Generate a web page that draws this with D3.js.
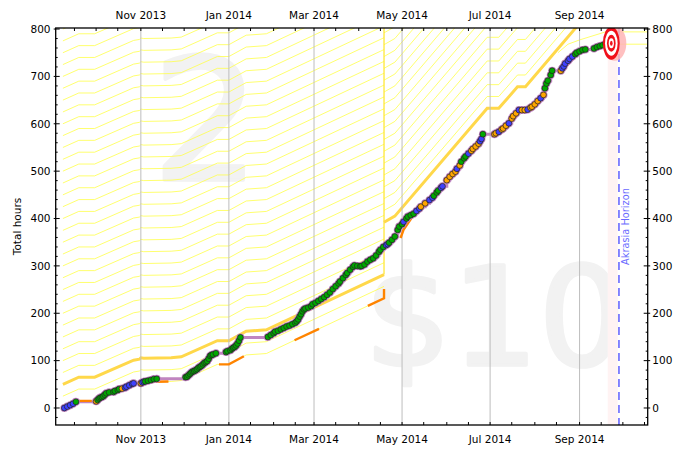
<!DOCTYPE html>
<html><head><meta charset="utf-8">
<script src="https://cdn.jsdelivr.net/npm/d3@7"></script>
<style>body{margin:0;background:#fff;}svg{display:block;font-family:"DejaVu Sans",sans-serif;}</style>
</head><body>
<svg id="c" width="696" height="453"></svg>
<script>
// ---------- data (day offsets counted from 2013-09-08) ----------
const startDate = "2013-09-08";
const dataDays = [1,3,5,7,9,23,24,25,26,27,28,29,30,32,35,36,38,39,41,43,44,46,48,49,54,55,56,57,59,61,63,65,
 85,86,87,88,89,90,91,92,93,94,95,96,97,98,99,100,101,102,103,104,106,113,114,116,117,118,119,120,121,122,123,
 142,144,146,147,149,151,153,155,157,159,161,162,163,164,165,166,167,168,170,172,173,175,177,179,181,183,185,187,189,191,192,194,196,197,199,201,202,204,206,207,209,211,213,215,217,219,220,222,
 224,225,226,228,230,232,233,235,236,238,239,241,243,245,247,248,251,254,256,257,259,260,262,263,266,268,270,272,273,275,276,278,279,281,283,284,286,288,289,290,291,
 299,300,302,304,305,307,309,311,312,314,316,318,320,322,324,325,327,329,331,333,334,335,336,338,339,345,346,347,348,350,351,353,355,356,358,360,362,368,370,372,374,376];
const dataHours = [0,3,6,9,13,14,17,20,22,23,25,28,31,33,34,36,38,40,41,43,45,48,51,52,52,54,55.5,56,57.5,59,61,61.5,
 65,66,69,72,75,77,78,80,82,85,87,89,92,95,97,99,104,110,112,113,115.5,118,120,122,125,127,129,132,136,142,149,
 150,154,158,161,163,166,169,172,174,177,180,183,187,193,198,204,208,210,212,215,219,222,226,230,234,239,244,251,257,263,267,274,281,285,292,298,301,300,299,300,303,309,313,316,322,330,334,340,
 344,346,349,355,362,376,383,388,393,400,404,407,410,416,421,425,432,439,444,448,455,459,465,468,481,488,494,499,505,512,520,527,531,537,543,547,552,558,563,568,578,
 578,580,583,588,590,596,601,611,616,622,629,629,629,630,634,636,641,648,654,661,675,685,691,703,712,712,717,721,727,733,737,742,747,750,753,756,757,759,762,764,766,769];
const dataDots =
 "bbbbg" + "o" + "gggggggggggg" + "o" + "bbbbb" + "o" + "bb" + "ggggg" +
 "g".repeat(31) + "g".repeat(48) +
 "bbggg"+"gggbg"+"gggbb"+"oobbg"+"ggbbo"+"ooobo"+"gggbo"+"ooobb"+"g" +
 "ooboo"+"obooo"+"boobo"+"ooobo"+"ggggg"+"obbbb"+"bbggg"+"ggggg"+"gg";

// road centreline before the April jump
const roadDays  = [0, 11, 22, 49, 53, 54, 56, 75, 82, 107, 115, 127, 141, 222.5];
const roadHours = [0, 15, 15, 51, 53, 56, 55, 56, 58, 92, 92, 112, 115, 231.7];
// thick (one-week) line after the jump
const road2Days  = [222.5, 230, 294, 302, 315, 320.5, 355.2, 380, 420];
const road2Hours = [392, 405, 632.6, 632.6, 678, 678, 802, 870, 900];
// centreline after the jump (orange)
const centre2Days  = [222.5, 236, 242, 250, 260, 270, 280, 290, 292, 299, 305, 316, 322, 333, 339, 345, 356, 362, 368, 376];
const centre2Hours = [262, 376, 403, 428, 455, 490, 532, 564, 575, 576, 588, 626, 628, 658, 708, 709, 746, 754, 757, 766];
// lines near the goal
const edge1Days = [343, 350, 358, 376, 420];
const edge1Hours = [750, 768, 777, 794, 794];
const edge2Days = [376, 420];
const edge2Hours = [768, 768];
const laneWidth = 25;
const preLanes = d3.range(0, 33);
const postLanes = d3.range(1, 18);
const jumpDay = 222.5;
const goalDay = 380, goalHours = 770;
const bandDays = [377.5, 384.4];
const horizonDay = 385.3;
const yTicks = [0,100,200,300,400,500,600,700,800];
const xLabelMonths = ["2013-11-01","2014-01-01","2014-03-01","2014-05-01","2014-07-01","2014-09-01"];
const yTitle = "Total hours";
const horizonText = "Akrasia Horizon";
const bufferText = "2", pledgeText = "$10";

// ---------- setup ----------
const base = new Date(2013, 8, 8);
const dd = d => new Date(base.getTime() + d * 864e5);
const L = 55.7, R = 647.7, T = 28, B = 425;
const x = d3.scaleTime().domain([new Date(2013, 8, 3), new Date(2014, 9, 18, 5)]).range([L, R]);
const y = d3.scaleLinear().domain([-35.9, 802.2]).range([B, T]);
const svg = d3.select("#c");
svg.append("defs").append("clipPath").attr("id", "pc")
  .append("rect").attr("x", L).attr("y", T).attr("width", R - L).attr("height", B - T);
const pts = (days, hrs, off = 0) => days.map((d, i) => [dd(d), hrs[i] + off]);
const line = d3.line().x(d => x(d[0])).y(d => y(d[1]));

// watermarks
const wm = svg.append("g").attr("fill", "#f2f2f2").attr("stroke", "#f2f2f2").attr("stroke-width", 3.5)
  .attr("stroke-linejoin", "round").attr("text-anchor", "middle");
wm.append("text").attr("x", 206).attr("y", 180).attr("font-size", 170).text(bufferText);
wm.append("text").attr("x", 495).attr("y", 365).attr("font-size", 137).text(pledgeText);

const plot = svg.append("g").attr("clip-path", "url(#pc)");

// pink band
plot.append("rect").attr("x", x(dd(bandDays[0]))).attr("y", T)
  .attr("width", x(dd(bandDays[1])) - x(dd(bandDays[0]))).attr("height", B - T)
  .attr("fill", "#fff3f3");

// guidelines
const thin = p => p.attr("fill", "none").attr("stroke", "#ffff4a").attr("stroke-opacity", 0.8).attr("stroke-width", 1);
preLanes.filter(k => k !== 2).forEach(k =>
  thin(plot.append("path").attr("d", line(pts(roadDays, roadHours, k * laneWidth)))));
postLanes.forEach(k =>
  thin(plot.append("path").attr("d", line(pts(road2Days, road2Hours, k * laneWidth)))));
thin(plot.append("path").attr("d", line(pts(edge1Days, edge1Hours))));
thin(plot.append("path").attr("d", line(pts(edge2Days, edge2Hours))));
// jump vertical
plot.append("line").attr("x1", x(dd(jumpDay))).attr("x2", x(dd(jumpDay)))
  .attr("y1", y(roadHours[roadHours.length - 1] + 2 * laneWidth)).attr("y2", T)
  .attr("stroke", "#ffe838").attr("stroke-width", 1.3);
// thick lines
plot.append("path").attr("d", line(pts(roadDays, roadHours, 2 * laneWidth)))
  .attr("fill", "none").attr("stroke", "#ffd84a").attr("stroke-width", 3);
plot.append("path").attr("d", line(pts(road2Days, road2Hours)))
  .attr("fill", "none").attr("stroke", "#ffd84a").attr("stroke-width", 3);

// gridlines
const gridDates = xLabelMonths.map(s => new Date(s + "T00:00:00"));
plot.selectAll(".grid").data(gridDates).enter().append("line")
  .attr("x1", d => x(d)).attr("x2", d => x(d)).attr("y1", T).attr("y2", B)
  .attr("stroke", "#bdbdbd").attr("stroke-width", 1);

// akrasia horizon
plot.append("line").attr("x1", x(dd(horizonDay))).attr("x2", x(dd(horizonDay)))
  .attr("y1", T).attr("y2", B).attr("stroke", "#3535ff").attr("stroke-width", 1.2)
  .attr("stroke-dasharray", "8,5");
svg.append("text").attr("transform", `translate(${x(dd(horizonDay)) + 9.6},${(T + B) / 2}) rotate(-90)`)
  .attr("text-anchor", "middle").attr("font-size", 9.8).attr("fill", "#6a6aff").text(horizonText);

// purple steppy line
const steps = d3.line().x(d => x(d[0])).y(d => y(d[1])).curve(d3.curveStepAfter);
const dataPts = pts(dataDays, dataHours);
plot.append("path").attr("d", steps(dataPts)).attr("fill", "none")
  .attr("stroke", "#c085c0").attr("stroke-width", 3);

// orange dashed centreline
const orangePts = pts(roadDays, roadHours).concat(pts(centre2Days, centre2Hours));
const op = plot.append("path").attr("d", line(orangePts)).attr("fill", "none")
  .attr("stroke", "#ff8400").attr("stroke-width", 2.4).attr("stroke-dasharray", "27,54");
(function () {
  const node = op.node(); let lo = 0, hi = node.getTotalLength();
  for (let i = 0; i < 40; i++) { const m = (lo + hi) / 2; if (node.getPointAtLength(m).x < 141.5) lo = m; else hi = m; }
  op.attr("stroke-dashoffset", -lo);
})();

// dots
const col = { g: "#00a800", b: "#4040ff", o: "#ffa500" };
plot.selectAll(".halo").data(dataPts).enter().append("circle")
  .attr("cx", d => x(d[0])).attr("cy", d => y(d[1])).attr("r", 4).attr("fill", "#c085c0");
plot.selectAll(".dot").data(dataPts).enter().append("circle")
  .attr("cx", d => x(d[0])).attr("cy", d => y(d[1])).attr("r", 2.9)
  .attr("fill", (d, i) => col[dataDots[i]] || col.g).attr("stroke", "#222").attr("stroke-width", 0.7);

// bullseye
const gx = x(dd(goalDay)), gy = y(goalHours);
plot.append("ellipse").attr("cx", gx + 3.5).attr("cy", gy).attr("rx", 11.5).attr("ry", 17.5).attr("fill", "#ffb5b5").attr("opacity", 0.85);
[[8.4, 16.5, "#f0101a"], [6.3, 12.4, "#fff"], [4.3, 8.5, "#f0101a"], [2.6, 5.1, "#fff"], [1.3, 2.5, "#f0101a"]]
  .forEach(r => plot.append("ellipse").attr("cx", gx).attr("cy", gy).attr("rx", r[0]).attr("ry", r[1]).attr("fill", r[2]));

// ---------- axes ----------
const fs = 10.5;
const monthTicks = d3.timeMonth.range(new Date(2013, 8, 1), new Date(2014, 10, 1));
const minorX = monthTicks.concat(monthTicks.map(m => new Date(m.getFullYear(), m.getMonth(), 16)))
  .filter(d => d >= x.domain()[0] && d <= x.domain()[1]);
const fmt = d3.timeFormat("%b %Y");
const ax = svg.append("g");
minorX.forEach(d => {
  ax.append("line").attr("x1", x(d)).attr("x2", x(d)).attr("y1", T).attr("y2", T + 3).attr("stroke", "#000");
  ax.append("line").attr("x1", x(d)).attr("x2", x(d)).attr("y1", B).attr("y2", B - 3).attr("stroke", "#000");
});
gridDates.forEach(d => {
  ax.append("text").attr("x", x(d)).attr("y", 19).attr("text-anchor", "middle").attr("font-size", fs).text(fmt(d));
  ax.append("text").attr("x", x(d)).attr("y", 443).attr("text-anchor", "middle").attr("font-size", fs).text(fmt(d));
});
d3.range(-20, 801, 20).forEach(v => {
  const major = v % 100 === 0, yy = y(v);
  if (yy > B) return;
  const len = major ? 4 : 2;
  ax.append("line").attr("x1", L).attr("x2", L + len).attr("y1", yy).attr("y2", yy).attr("stroke", "#000");
  ax.append("line").attr("x1", R).attr("x2", R - len).attr("y1", yy).attr("y2", yy).attr("stroke", "#000");
  if (major) {
    ax.append("line").attr("x1", L).attr("x2", L - 2).attr("y1", yy).attr("y2", yy).attr("stroke", "#000");
    ax.append("line").attr("x1", R).attr("x2", R + 2.5).attr("y1", yy).attr("y2", yy).attr("stroke", "#000");
  }
});
yTicks.forEach(v => {
  ax.append("text").attr("x", 50.5).attr("y", y(v)).attr("dy", "0.36em").attr("text-anchor", "end").attr("font-size", fs).text(v);
  ax.append("text").attr("x", 652.3).attr("y", y(v)).attr("dy", "0.36em").attr("text-anchor", "start").attr("font-size", fs).text(v);
});
ax.append("text").attr("transform", `translate(21,${(T + B) / 2}) rotate(-90)`).attr("text-anchor", "middle")
  .attr("font-size", fs).text(yTitle);
svg.append("rect").attr("x", L).attr("y", T).attr("width", R - L).attr("height", B - T)
  .attr("fill", "none").attr("stroke", "#000").attr("stroke-width", 1.3);
</script>
</body></html>
